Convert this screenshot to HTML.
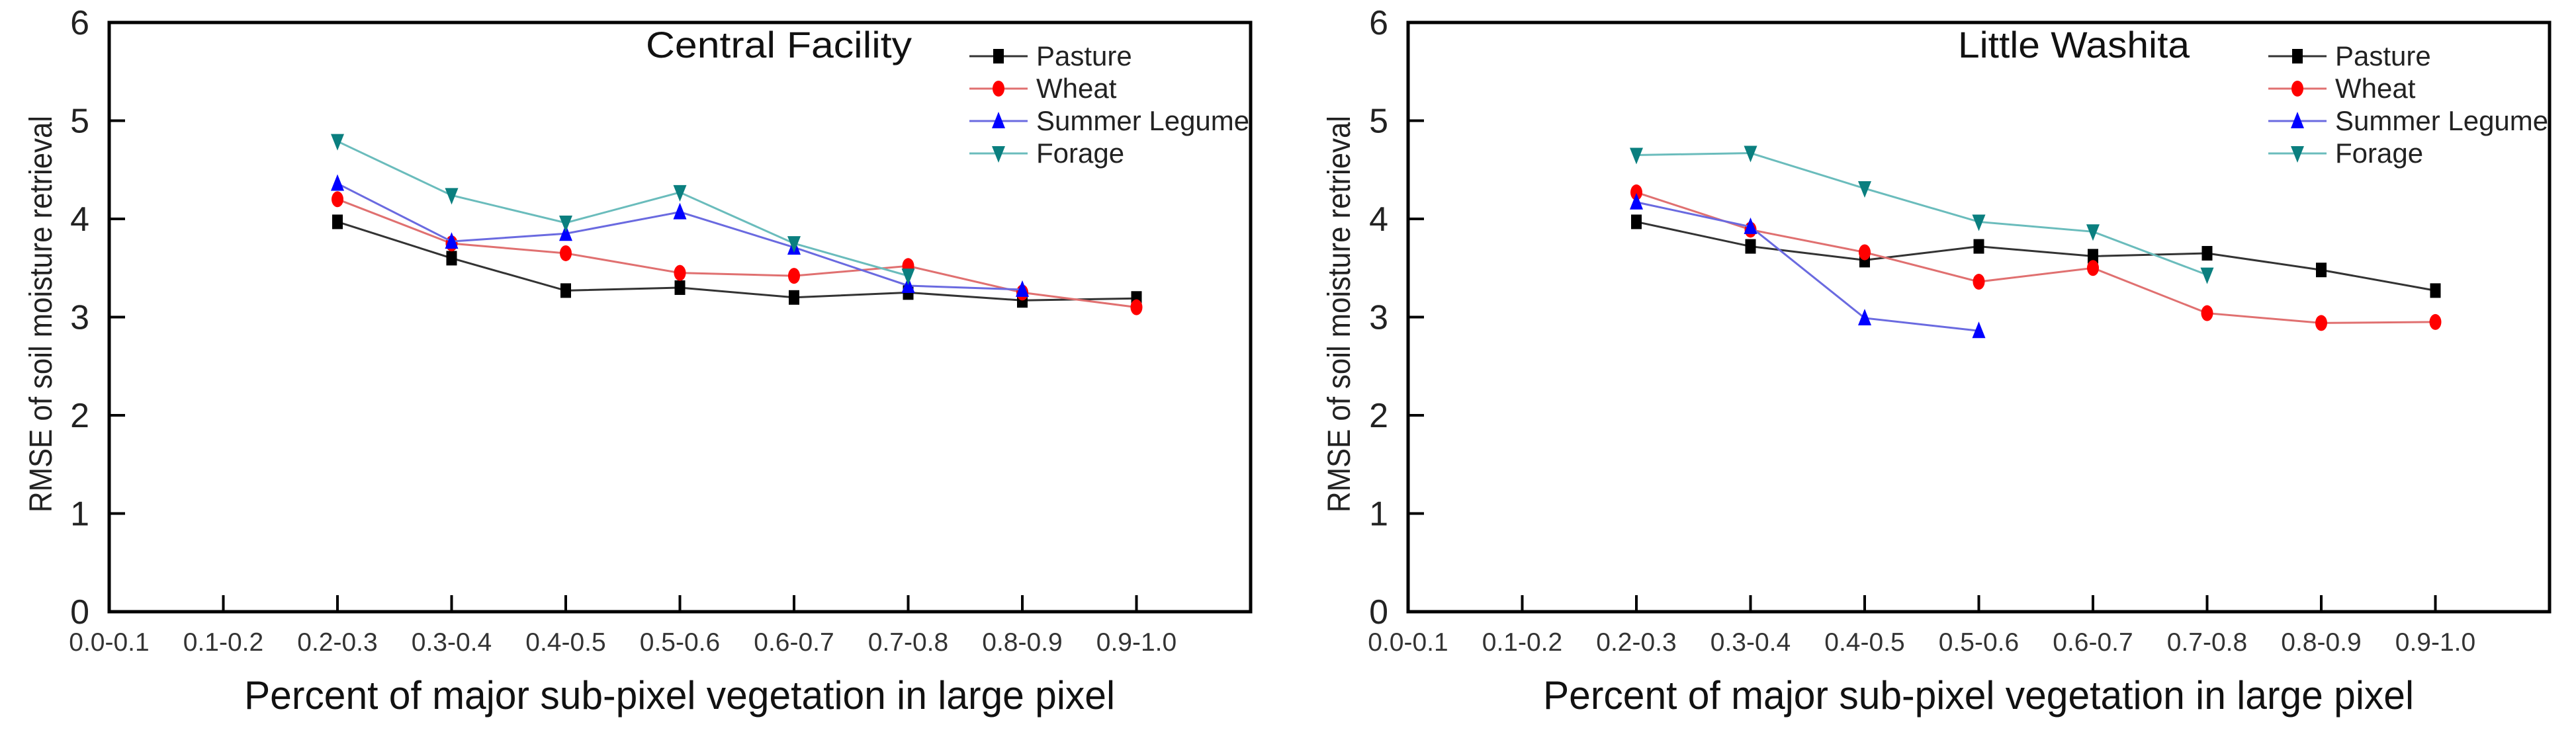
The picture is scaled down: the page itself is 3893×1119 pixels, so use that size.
<!DOCTYPE html>
<html><head><meta charset="utf-8"><style>
html,body{margin:0;padding:0;background:#fff;}
svg{display:block;font-family:"Liberation Sans",sans-serif;}
</style></head><body>
<svg id="chart" width="3893" height="1119" viewBox="0 0 3893 1119" xmlns="http://www.w3.org/2000/svg"></svg>
<script>
const categories = ["0.0-0.1","0.1-0.2","0.2-0.3","0.3-0.4","0.4-0.5","0.5-0.6","0.6-0.7","0.7-0.8","0.8-0.9","0.9-1.0"];
const yTicks = [0,1,2,3,4,5,6];
const seriesNames = ["Pasture","Wheat","Summer Legume","Forage"];
// Central Facility (values start at category index 2)
const cfPasture = [3.97,3.60,3.27,3.30,3.20,3.25,3.17,3.19];
const cfWheat   = [4.20,3.75,3.65,3.45,3.42,3.52,3.25,3.10];
const cfLegume  = [4.36,3.77,3.85,4.07,3.71,3.32,3.28];
const cfForage  = [4.79,4.24,3.96,4.27,3.75,3.42];
// Little Washita
const lwPasture = [3.97,3.72,3.58,3.72,3.62,3.65,3.48,3.27];
const lwWheat   = [4.27,3.89,3.66,3.36,3.50,3.04,2.94,2.95];
const lwLegume  = [4.17,3.92,2.99,2.86];
const lwForage  = [4.65,4.67,4.31,3.97,3.87,3.43];
const startIndex = 2;

const NS="http://www.w3.org/2000/svg";
const svg=document.getElementById('chart');
function mk(tag,attrs,parent){const e=document.createElementNS(NS,tag);for(const k in attrs)e.setAttribute(k,attrs[k]);(parent||svg).appendChild(e);return e;}

const styles=[
 {line:"#333",fill:"#000",shape:"square"},
 {line:"#e07070",fill:"#ff0000",shape:"circle"},
 {line:"#6a6ae0",fill:"#0000ff",shape:"up"},
 {line:"#6abcbc",fill:"#0a7f7f",shape:"down"}
];

function marker(g,shape,x,y,fill){
  let m;
  if(shape==="square") m=mk('rect',{x:x-8,y:y-11,width:16,height:22,fill:fill},g);
  else if(shape==="circle") m=mk('ellipse',{cx:x,cy:y,rx:9,ry:12,fill:fill},g);
  else if(shape==="up") m=mk('polygon',{points:`${x},${y-14} ${x-10},${y+11} ${x+10},${y+11}`,fill:fill},g);
  else m=mk('polygon',{points:`${x},${y+14} ${x-10},${y-11} ${x+10},${y-11}`,fill:fill},g);
  return m;
}

function drawPanel(opts){
  const L=opts.left, R=L+1725, T=34, B=925;
  const unit=(B-T)/6, step=172.5;
  const xs=i=>L+i*step;
  const ys=v=>B-v*unit;
  const g=mk('g',{});
  
  
  const frame=mk('rect',{x:L,y:T,width:R-L,height:B-T,fill:"none",stroke:"#000","stroke-width":5},g);
  
  
  yTicks.forEach(v=>{
    const y=ys(v);
    if(v>0&&v<6){const t=mk('line',{x1:L,x2:L+24,y1:y,y2:y,stroke:"#000","stroke-width":4},g);
      }
    const tl=mk('text',{x:L-30,y:y+18,"text-anchor":"end","font-size":52,fill:"#222"},g);
    tl.textContent=v;
    
    
  });
  categories.forEach((c,i)=>{
    const x=xs(i);
    if(i>0){const t=mk('line',{x1:x,x2:x,y1:B,y2:B-25,stroke:"#000","stroke-width":4},g);
      }
    const tl=mk('text',{x:x,y:984,"text-anchor":"middle","font-size":39,fill:"#333"},g);
    tl.textContent=c;
    
    
  });
  const xt=mk('text',{x:L+862,y:1072,"text-anchor":"middle","font-size":60,textLength:1316,lengthAdjust:"spacingAndGlyphs",fill:"#111"},g);
  xt.textContent="Percent of major sub-pixel vegetation in large pixel";
  
  
  const yx=opts.yTitleX;
  const yt=mk('text',{x:yx,y:475,"text-anchor":"middle","font-size":48,textLength:600,lengthAdjust:"spacingAndGlyphs",transform:`rotate(-90 ${yx} 475)`,fill:"#222"},g);
  yt.textContent="RMSE of soil moisture retrieval";
  
  
  const ti=mk('text',{x:L+opts.titleOff,y:87,"font-size":56,textLength:opts.titleLen,lengthAdjust:"spacingAndGlyphs",fill:"#111"},g);
  ti.textContent=opts.title;
  
  
  opts.series.forEach((vals,si)=>{
    const st=styles[si];
    const sg=mk('g',{},g);
    
    
    const pts=vals.map((v,i)=>`${xs(i+startIndex)},${ys(v)}`).join(' ');
    const pl=mk('polyline',{points:pts,fill:"none",stroke:st.line,"stroke-width":3},sg);
    
    
    vals.forEach((v,i)=>{
      const m=marker(sg,st.shape,xs(i+startIndex),ys(v),st.fill);
      
      
    });
    const ly=85+si*49;
    const lg=mk('g',{},g);
    
    
    mk('line',{x1:L+1300,x2:L+1388,y1:ly,y2:ly,stroke:st.line,"stroke-width":3},lg);
    marker(lg,st.shape,L+1344,ly,st.fill);
    const lt=mk('text',{x:L+1401,y:ly+14,"font-size":42,fill:"#222"},lg);
    lt.textContent=seriesNames[si];
  });
}

drawPanel({name:'central-facility-chart',left:165,title:'Central Facility',titleOff:811,titleLen:402,yTitleX:78,
  series:[cfPasture,cfWheat,cfLegume,cfForage]});
drawPanel({name:'little-washita-chart',left:2128,title:'Little Washita',titleOff:831,titleLen:350,yTitleX:2040,
  series:[lwPasture,lwWheat,lwLegume,lwForage]});
</script>
</body></html>
